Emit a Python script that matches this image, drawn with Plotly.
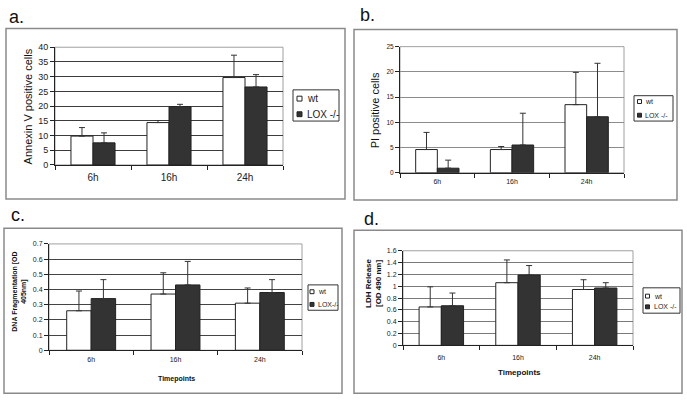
import plotly.graph_objects as go

W, H = 687, 404

# ---------------- data ----------------
timepoints = ["6h", "16h", "24h"]

a_wt = [9.8, 14.4, 29.7]
a_wt_err = [2.9, 0.7, 7.6]
a_lox = [7.5, 19.8, 26.5]
a_lox_err = [3.4, 0.8, 4.2]

b_wt = [4.6, 4.6, 13.5]
b_wt_err = [3.4, 0.6, 6.4]
b_lox = [0.9, 5.5, 11.1]
b_lox_err = [1.6, 6.3, 10.6]

c_wt = [0.26, 0.37, 0.31]
c_wt_err = [0.13, 0.14, 0.10]
c_lox = [0.34, 0.43, 0.38]
c_lox_err = [0.125, 0.155, 0.085]

d_wt = [0.65, 1.06, 0.945]
d_wt_err = [0.34, 0.385, 0.165]
d_lox = [0.67, 1.19, 0.97]
d_lox_err = [0.215, 0.16, 0.09]

series_names = ["wt", "LOX -/-"]
FONT = "Liberation Sans, Arial, sans-serif"


def px(x):
    return x / W


def py(y):
    return 1 - y / H


fig = go.Figure()

panels = [
    dict(k="", wt=a_wt, we=a_wt_err, lx=a_lox, le=a_lox_err, xd=(55, 283), yd=(164, 43.3),
         yr=(0, 40), dt=5, grid="#3c3c3c", ytf=9, xtf=10, stand=3),
    dict(k="2", wt=b_wt, we=b_wt_err, lx=b_lox, le=b_lox_err, xd=(400, 624), yd=(172, 42.7),
         yr=(0, 25), dt=5, grid="#8c8c8c", ytf=6.5, xtf=7, stand=2),
    dict(k="3", wt=c_wt, we=c_wt_err, lx=c_lox, le=c_lox_err, xd=(49, 302), yd=(354, 245),
         yr=(0, 0.7), dt=0.1, grid="#444444", ytf=7, xtf=7, stand=2),
    dict(k="4", wt=d_wt, we=d_wt_err, lx=d_lox, le=d_lox_err, xd=(403, 633), yd=(349, 252),
         yr=(0, 1.6), dt=0.2, grid="#7a7a7a", ytf=7, xtf=7, stand=5),
]

for p in panels:
    xa = "x" + p["k"]
    ya = "y" + p["k"]
    fig.add_trace(go.Bar(
        x=timepoints, y=p["wt"], name=series_names[0], xaxis=xa, yaxis=ya,
        marker=dict(color="white", line=dict(color="#222222", width=1)),
        error_y=dict(type="data", symmetric=False, array=p["we"],
                     arrayminus=[0] * len(p["we"]), color="#333333",
                     thickness=1, width=3),
        showlegend=False,
    ))
    fig.add_trace(go.Bar(
        x=timepoints, y=p["lx"], name=series_names[1], xaxis=xa, yaxis=ya,
        marker=dict(color="#333333", line=dict(color="#222222", width=1)),
        error_y=dict(type="data", symmetric=False, array=p["le"],
                     arrayminus=[0] * len(p["le"]), color="#333333",
                     thickness=1, width=3),
        showlegend=False,
    ))
    xkey = "xaxis" + p["k"]
    ykey = "yaxis" + p["k"]
    fig.layout[xkey] = dict(
        domain=[px(p["xd"][0]), px(p["xd"][1])], anchor=ya, type="category",
        showline=True, linecolor="#222222", linewidth=1, showgrid=False,
        ticks="outside", tickson="boundaries", ticklen=4, tickcolor="#222222",
        tickfont=dict(family=FONT, size=p["xtf"], color="#222222"),
        ticklabelstandoff=p["stand"], fixedrange=True,
    )
    fig.layout[ykey] = dict(
        domain=[py(p["yd"][0]), py(p["yd"][1])], anchor=xa,
        range=list(p["yr"]), dtick=p["dt"], tick0=0,
        showline=True, linecolor="#222222", linewidth=1,
        showgrid=True, gridcolor=p["grid"], gridwidth=1, zeroline=False,
        ticks="outside", ticklen=4, tickcolor="#222222",
        tickfont=dict(family=FONT, size=p["ytf"], color="#222222"),
        fixedrange=True,
    )
    fig.add_shape(type="rect", xref=xa + " domain", yref=ya + " domain",
                  x0=0, x1=1, y0=0, y1=1, line=dict(color="#a0a0a0", width=1),
                  layer="below")

# panel frames
frames = [(6, 24, 345, 199), (354, 25, 677, 200), (4, 229, 342, 398), (354, 231, 682, 398)]
for x0, y0, x1, y1 in frames:
    fig.add_shape(type="rect", xref="paper", yref="paper",
                  x0=px(x0), x1=px(x1), y0=py(y1), y1=py(y0),
                  line=dict(color="#8a8a8a", width=1.5), layer="below")

# legends (box, swatches, labels)
legends = [
    dict(box=(293, 87, 339, 119), rows=(96, 112), sq=(297, 5), tx=305, fs=10, labels=["wt", "LOX -/-"]),
    dict(box=(634, 93, 673, 119), rows=(99, 113), sq=(637.5, 4), tx=643, fs=7, labels=["wt", "LOX -/-"]),
    dict(box=(308, 287, 338, 313), rows=(294, 307), sq=(310, 4), tx=315.5, fs=7, labels=["wt", "LOX-/-"]),
    dict(box=(643, 290, 680, 316), rows=(298.5, 309.5), sq=(645.5, 4), tx=651.5, fs=7, labels=["wt", "LOX -/-"]),
]
for L in legends:
    bx0, by0, bx1, by1 = L["box"]
    fig.add_shape(type="rect", xref="paper", yref="paper",
                  x0=px(bx0), x1=px(bx1), y0=py(by1), y1=py(by0),
                  line=dict(color="#333333", width=1), fillcolor="white")
    for i, ry in enumerate(L["rows"]):
        s = L["sq"][1]
        fig.add_shape(type="rect", xref="paper", yref="paper",
                      x0=px(L["sq"][0]), x1=px(L["sq"][0] + s),
                      y0=py(ry + s / 2), y1=py(ry - s / 2),
                      line=dict(color="#222222", width=1),
                      fillcolor="white" if i == 0 else "#333333")
        fig.add_annotation(x=px(L["tx"]), y=py(ry), xref="paper", yref="paper",
                           text=L["labels"][i], showarrow=False, xanchor="left",
                           yanchor="middle", font=dict(family=FONT, size=L["fs"], color="#222222"))

# panel letters
for txt, x, y in [("a.", 7, 12), ("b.", 358, 10), ("c.", 9, 215), ("d.", 362, 219)]:
    fig.add_annotation(x=px(x), y=py(y), xref="paper", yref="paper", text=txt,
                       showarrow=False, xanchor="left", yanchor="middle",
                       font=dict(family=FONT, size=18, color="#111111"))

# axis titles
titles = [
    ("Annexin V positive cells", 28, 104, 11, -90),
    ("PI positive cells", 375, 108, 11, -90),
    ("<b>DNA Fragmentation [OD<br>405nm]</b>", 20, 294, 7, -90),
    ("<b>LDH Release<br>[OD 490 nm]</b>", 374, 286, 8, -90),
    ("<b>Timepoints</b>", 176, 383, 7, 0),
    ("<b>Timepoints</b>", 519, 377, 8, 0),
]
for txt, x, y, fs, ang in titles:
    fig.add_annotation(x=px(x), y=py(y), xref="paper", yref="paper", text=txt,
                       showarrow=False, xanchor="center", yanchor="middle",
                       textangle=ang,
                       font=dict(family=FONT, size=fs, color="#111111"))

fig.update_layout(
    width=W, height=H, autosize=False,
    margin=dict(l=0, r=0, t=0, b=0),
    paper_bgcolor="white", plot_bgcolor="white",
    barmode="group", bargap=0.42, bargroupgap=0,
    showlegend=False,
    font=dict(family=FONT, color="#222222"),
)

fig.write_html("out.html",
               config={"displayModeBar": False, "staticPlot": True},
               post_script="document.body.style.margin='0';document.body.style.overflow='hidden';")
